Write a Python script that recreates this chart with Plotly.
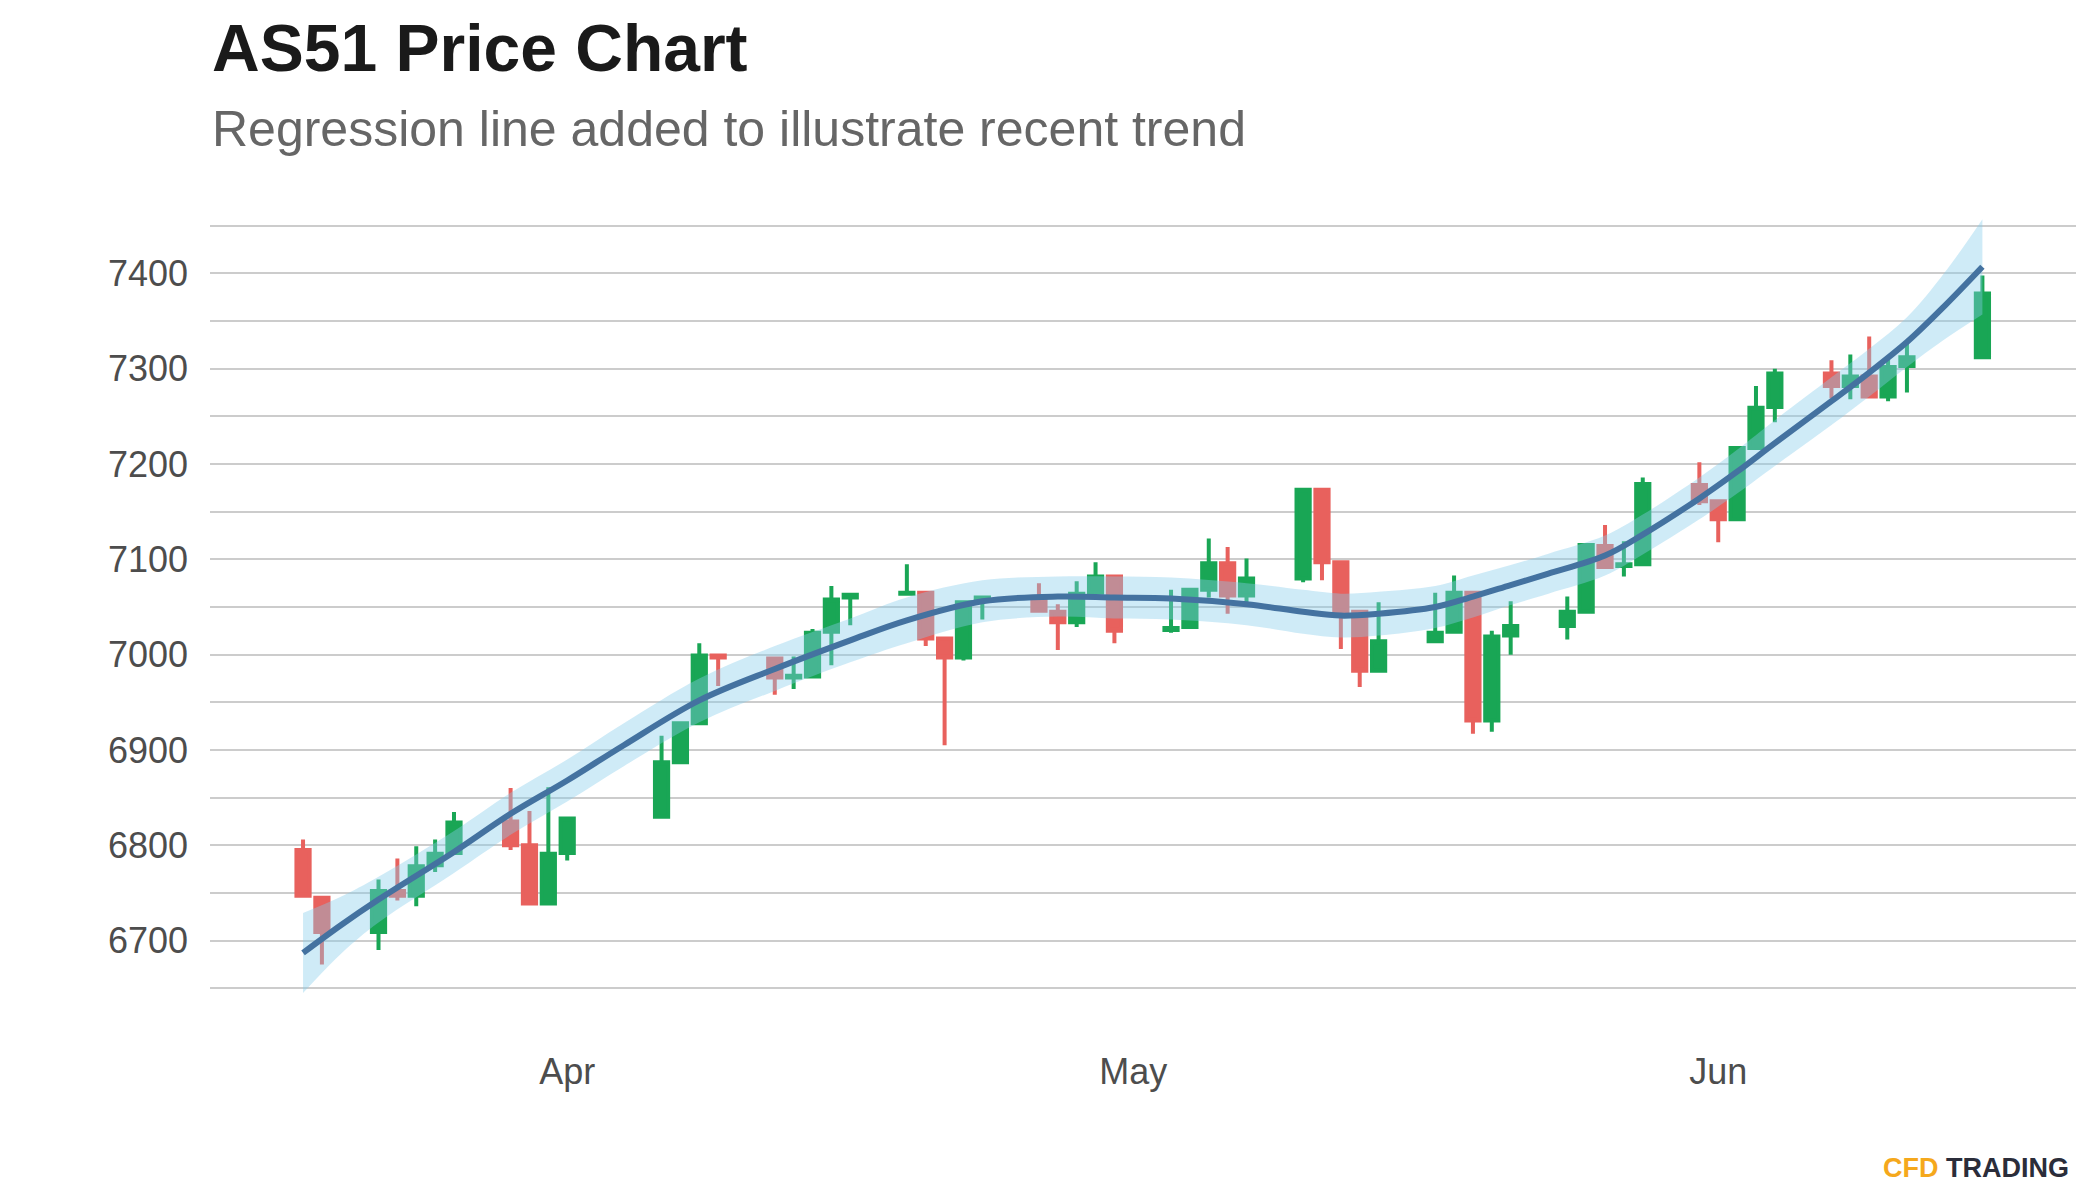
import plotly.graph_objects as go

# ---------------- data ----------------
dates = [
    "2021-03-18", "2021-03-19", "2021-03-22", "2021-03-23", "2021-03-24", "2021-03-25", "2021-03-26",
    "2021-03-29", "2021-03-30", "2021-03-31", "2021-04-01",
    "2021-04-06", "2021-04-07", "2021-04-08", "2021-04-09",
    "2021-04-12", "2021-04-13", "2021-04-14", "2021-04-15", "2021-04-16",
    "2021-04-19", "2021-04-20", "2021-04-21", "2021-04-22", "2021-04-23",
    "2021-04-26", "2021-04-27", "2021-04-28", "2021-04-29", "2021-04-30",
    "2021-05-03", "2021-05-04", "2021-05-05", "2021-05-06", "2021-05-07",
    "2021-05-10", "2021-05-11", "2021-05-12", "2021-05-13", "2021-05-14",
    "2021-05-17", "2021-05-18", "2021-05-19", "2021-05-20", "2021-05-21",
    "2021-05-24", "2021-05-25", "2021-05-26", "2021-05-27", "2021-05-28",
    "2021-05-31", "2021-06-01", "2021-06-02", "2021-06-03", "2021-06-04",
    "2021-06-07", "2021-06-08", "2021-06-09", "2021-06-10", "2021-06-11",
    "2021-06-15",
]
opens = [
    6795, 6745, 6709, 6752, 6747, 6779, 6792,
    6825, 6800, 6739, 6792,
    6830, 6887, 6928, 6999,
    6996, 6976, 6977, 7024, 7060,
    7064, 7065, 7017, 6997, 7057,
    7057, 7045, 7034, 7065, 7082,
    7026, 7029, 7068, 7096, 7062,
    7080, 7173, 7097, 7045, 6983,
    7014, 7024, 7065, 6931, 7020,
    7030, 7045, 7114, 7093, 7095,
    7178, 7161, 7142, 7217, 7260,
    7295, 7282, 7292, 7271, 7303,
    7312,
]
highs = [
    6806, 6746, 6764, 6786, 6799, 6806, 6835,
    6860, 6836, 6861, 6830,
    6915, 6930, 7012, 6999,
    6997, 6998, 7027, 7072, 7064,
    7095, 7066, 7018, 7056, 7061,
    7075, 7053, 7077, 7097, 7083,
    7068, 7069, 7122, 7113, 7101,
    7174, 7174, 7098, 7046, 7055,
    7065, 7083, 7066, 7025, 7056,
    7061, 7116, 7136, 7119, 7186,
    7202, 7162, 7218, 7282, 7300,
    7309, 7315, 7334, 7310, 7329,
    7398,
]
lows = [
    6745, 6675, 6690, 6742, 6736, 6772, 6790,
    6795, 6738, 6738, 6784,
    6829, 6886, 6927, 6967,
    6958, 6964, 6976, 6989, 7031,
    7063, 7009, 6905, 6994, 7037,
    7045, 7005, 7029, 7064, 7012,
    7023, 7028, 7060, 7043, 7055,
    7076, 7078, 7006, 6966, 6982,
    7013, 7023, 6917, 6919, 7000,
    7016, 7045, 7090, 7082, 7094,
    7157, 7118, 7141, 7216, 7244,
    7269, 7268, 7270, 7266, 7275,
    7311,
]
closes = [
    6747, 6709, 6752, 6747, 6778, 6791, 6824,
    6800, 6739, 6791, 6828,
    6887, 6928, 6999, 6997,
    6976, 6978, 7023, 7058, 7063,
    7065, 7017, 6997, 7055, 7060,
    7046, 7034, 7064, 7082, 7025,
    7028, 7068, 7096, 7062, 7080,
    7173, 7097, 7045, 6983, 7014,
    7023, 7065, 6931, 7019, 7030,
    7045, 7115, 7092, 7095, 7179,
    7161, 7142, 7217, 7259, 7295,
    7282, 7292, 7271, 7302, 7312,
    7379,
]

# regression (smoothed) line and its confidence band
smooth_dates = [
    "2021-03-18", "2021-03-20", "2021-03-22", "2021-03-26", "2021-03-29", "2021-04-01",
    "2021-04-04", "2021-04-08", "2021-04-12", "2021-04-16", "2021-04-19", "2021-04-23",
    "2021-04-27", "2021-04-30", "2021-05-03", "2021-05-07", "2021-05-10", "2021-05-12",
    "2021-05-14", "2021-05-17", "2021-05-19", "2021-05-21", "2021-05-23", "2021-05-26",
    "2021-05-28", "2021-05-31", "2021-06-02", "2021-06-04", "2021-06-07", "2021-06-09",
    "2021-06-11", "2021-06-13", "2021-06-15",
]
smooth_fit = [
    6687, 6716, 6743, 6793, 6833, 6868,
    6905, 6952, 6985, 7015, 7036, 7056,
    7061, 7060, 7059, 7053, 7045, 7041,
    7043, 7050, 7061, 7073, 7085, 7104,
    7126, 7164, 7192, 7222, 7266, 7296,
    7328, 7366, 7407,
]
smooth_upper = [
    6729, 6746, 6767, 6815, 6855, 6890,
    6928, 6975, 7009, 7038, 7060, 7078,
    7082, 7082, 7081, 7075, 7068, 7064,
    7066, 7072, 7083, 7094, 7106, 7125,
    7147, 7186, 7215, 7246, 7291, 7321,
    7354, 7401, 7457,
]
smooth_lower = [
    6645, 6686, 6719, 6771, 6811, 6846,
    6883, 6929, 6962, 6992, 7012, 7034,
    7040, 7038, 7037, 7031, 7022, 7018,
    7020, 7028, 7039, 7052, 7064, 7083,
    7105, 7142, 7169, 7198, 7241, 7271,
    7302, 7331, 7357,
]

x_tick_dates = ["2021-04-01", "2021-05-01", "2021-06-01"]
x_tick_labels = ["Apr", "May", "Jun"]
y_grid_values = [6650, 6700, 6750, 6800, 6850, 6900, 6950, 7000, 7050,
                 7100, 7150, 7200, 7250, 7300, 7350, 7400, 7450]
y_tick_labels = ["", "6700", "", "6800", "", "6900", "", "7000", "",
                 "7100", "", "7200", "", "7300", "", "7400", ""]

title_text = "AS51 Price Chart"
subtitle_text = "Regression line added to illustrate recent trend"

# ---------------- styling ----------------
RED = "#E8615D"
GREEN = "#19A655"
LINE = "#4472A0"
RIBBON = "rgba(135,206,235,0.4)"
FONT = "Liberation Sans, Arial, Helvetica, sans-serif"

fig = go.Figure()

fig.add_trace(go.Candlestick(
    x=dates, open=opens, high=highs, low=lows, close=closes,
    increasing=dict(line=dict(color=GREEN, width=4), fillcolor=GREEN),
    decreasing=dict(line=dict(color=RED, width=4), fillcolor=RED),
    whiskerwidth=0, showlegend=False, hoverinfo="skip",
))

fig.add_trace(go.Scatter(
    x=smooth_dates, y=smooth_lower, mode="lines",
    line=dict(width=0, shape="spline", color=RIBBON),
    showlegend=False, hoverinfo="skip",
))
fig.add_trace(go.Scatter(
    x=smooth_dates, y=smooth_upper, mode="lines",
    line=dict(width=0, shape="spline", color=RIBBON),
    fill="tonexty", fillcolor=RIBBON,
    showlegend=False, hoverinfo="skip",
))
fig.add_trace(go.Scatter(
    x=smooth_dates, y=smooth_fit, mode="lines",
    line=dict(width=6, shape="spline", color=LINE),
    showlegend=False, hoverinfo="skip",
))

# the page body has an 8px margin, so the figure is sized/margined to land
# the plotting panel at the same window pixels as the reference
fig.update_layout(
    width=2084, height=1184,
    margin=dict(l=202, r=16, t=174, b=159),
    paper_bgcolor="white", plot_bgcolor="white",
    showlegend=False,
    boxgap=0.3, boxgroupgap=0.0,
    font=dict(family=FONT),
    xaxis=dict(
        type="date",
        range=["2021-03-13 01:40", "2021-06-19 23:02"],
        tickvals=x_tick_dates, ticktext=x_tick_labels,
        showgrid=False, zeroline=False, showline=False,
        ticks="", ticklabelstandoff=14,
        tickfont=dict(size=36, color="#4D4D4D", family=FONT),
        rangeslider=dict(visible=False),
        fixedrange=True,
    ),
    yaxis=dict(
        range=[6603, 7496],
        tickvals=y_grid_values, ticktext=y_tick_labels,
        showgrid=True, gridcolor="#CCCCCC", gridwidth=2,
        zeroline=False, showline=False,
        ticks="", ticklabelstandoff=21,
        tickfont=dict(size=36, color="#4D4D4D", family=FONT),
        fixedrange=True,
    ),
    annotations=[
        dict(text="<b>" + title_text + "</b>", xref="paper", yref="paper",
             x=0, y=1.1569, xanchor="left", yanchor="middle", showarrow=False,
             font=dict(size=66, color="#1A1A1A", family=FONT)),
        dict(text=subtitle_text, xref="paper", yref="paper",
             x=0, y=1.0618, xanchor="left", yanchor="middle", showarrow=False,
             font=dict(size=50, color="#666666", family=FONT)),
        dict(text="<b><span style='color:#F5A81C'>CFD</span> "
                  "<span style='color:#2B2D3A'>TRADING</span></b>",
             xref="paper", yref="paper",
             x=0.9973, y=-0.1586, xanchor="right", yanchor="middle", showarrow=False,
             font=dict(size=27, family=FONT)),
    ],
)

fig.write_html("out.html")
